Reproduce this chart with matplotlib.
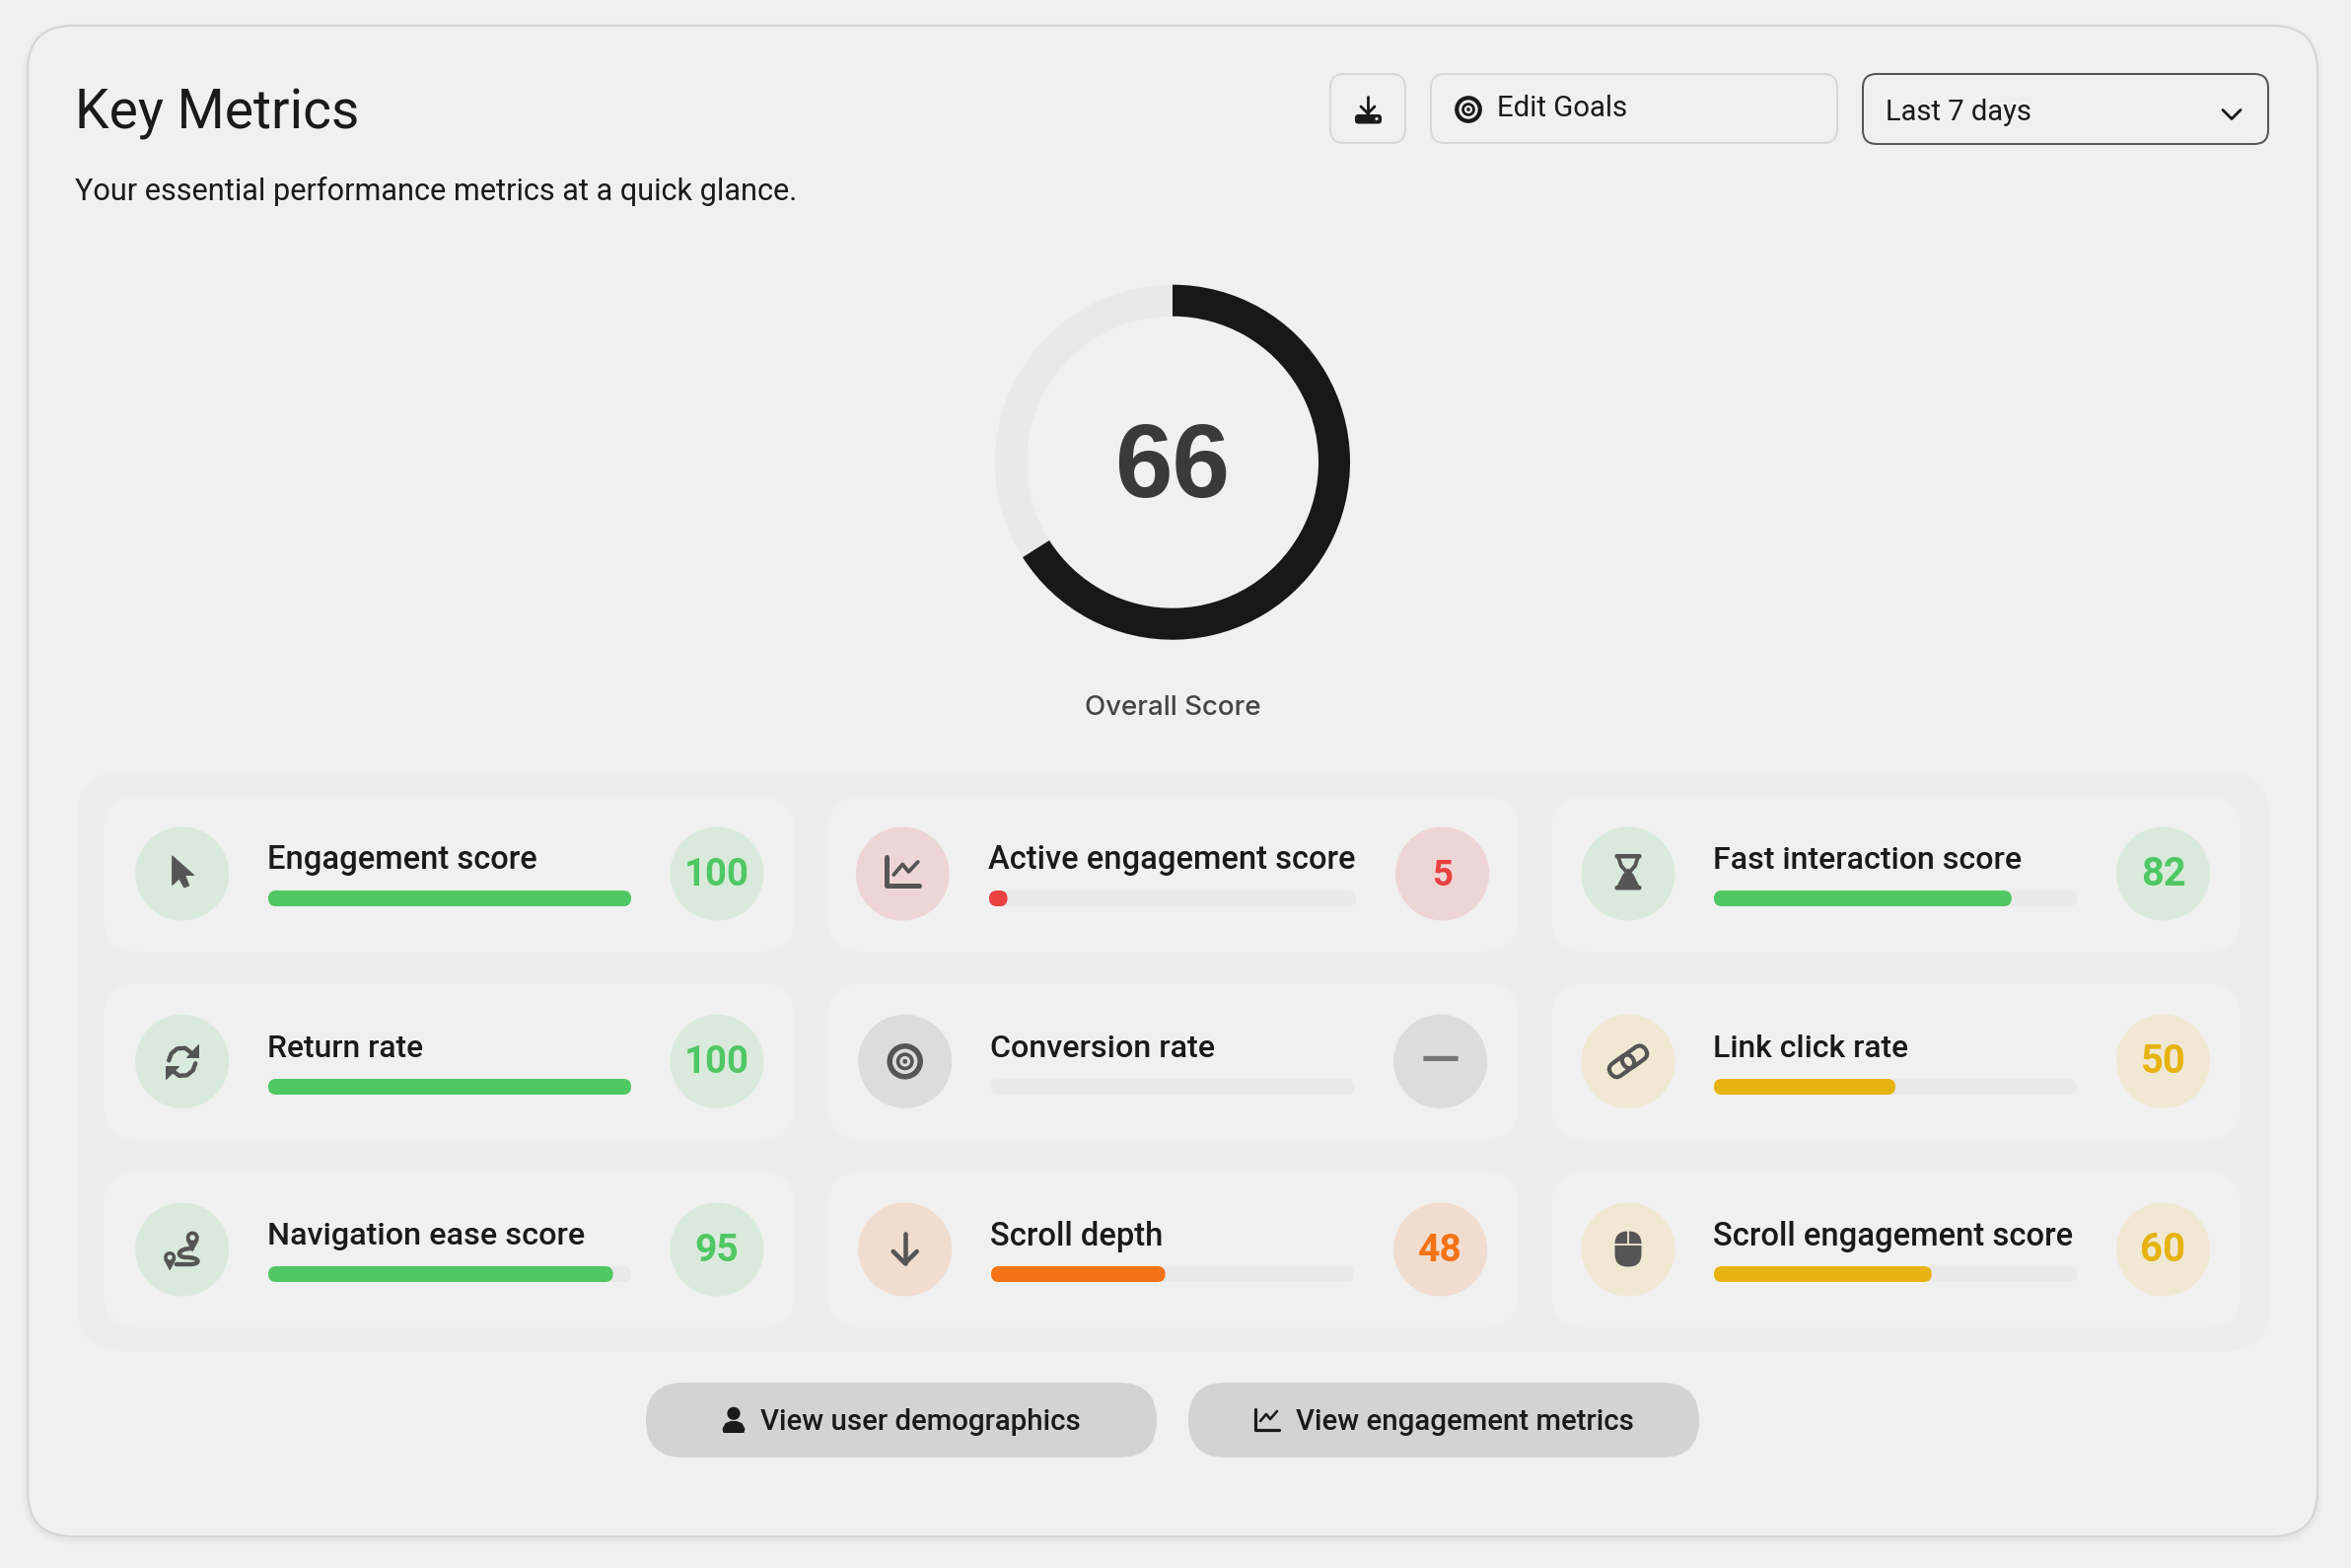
import matplotlib
matplotlib.use("Agg")
import matplotlib.pyplot as plt
from matplotlib.patches import FancyBboxPatch, Circle, Wedge, Polygon, PathPatch
from matplotlib.path import Path
from matplotlib.transforms import Affine2D

# ---------- data ----------
title = "Key Metrics"
subtitle = "Your essential performance metrics at a quick glance."
overall_label = "Overall Score"
overall_score = 66
metric_names = ["Engagement score", "Active engagement score", "Fast interaction score",
                "Return rate", "Conversion rate", "Link click rate",
                "Navigation ease score", "Scroll depth", "Scroll engagement score"]
metric_values = [100, 5, 82, 100, None, 50, 95, 48, 60]
button_labels = ["View user demographics", "View engagement metrics"]
edit_label = "Edit Goals"
range_label = "Last 7 days"

# ---------- layout (pixel canvas) ----------
W, H = 2384, 1590
PX = 0.72
LABEL_FONT = "Roboto"
VALUE_FONT = "Roboto"
INK = "#1a1a1a"
ICON = "#555555"

fig = plt.figure(figsize=(W / 100, H / 100), dpi=100, facecolor="#f0f0f0")
ax = fig.add_axes([0, 0, 1, 1])
ax.set_xlim(0, W)
ax.set_ylim(H, 0)
ax.axis("off")
renderer = fig.canvas.get_renderer()


def box(x0, y0, x1, y1, r, fc="none", ec="none", lw=0, z=1, alpha=None, tr=None):
    p = FancyBboxPatch((x0, y0), x1 - x0, y1 - y0, boxstyle=f"round,pad=0,rounding_size={r}",
                       fc=fc, ec=ec, lw=lw * PX, zorder=z, alpha=alpha)
    if tr is not None:
        p.set_transform(tr + ax.transData)
    ax.add_patch(p)
    return p


def text(x, y, s, width=None, size=20, color=INK, family=LABEL_FONT, weight=500, ha="left", va="baseline", z=6):
    t = ax.text(x, y, s, fontsize=size, color=color, family=family, fontweight=weight, ha=ha, va=va, zorder=z)
    if width:
        bb = t.get_window_extent(renderer)
        t.set_fontsize(size * width / bb.width)
    return t


def line(pts, lw, color=ICON, z=5, cap="round"):
    xs, ys = zip(*pts)
    ax.plot(xs, ys, color=color, lw=lw * PX, solid_capstyle=cap, solid_joinstyle="round", zorder=z)


def disc(x, y, r, fc=ICON, z=5):
    ax.add_patch(Circle((x, y), r, fc=fc, ec="none", zorder=z))


def ring(x, y, r, lw, color=ICON, z=5):
    ax.add_patch(Circle((x, y), r, fc="none", ec=color, lw=lw * PX, zorder=z))


def poly(pts, fc=ICON, z=5):
    ax.add_patch(Polygon(pts, closed=True, fc=fc, ec=fc, lw=1 * PX, joinstyle="round", zorder=z))


# ---------- icons ----------
def icon_cursor(c, bg):
    x, y = c
    poly([(x - 10, y - 18), (x + 12, y + 1.5), (x + 3, y + 1.5), (x + 7, y + 12), (x + 2, y + 14),
          (x - 3, y + 5), (x - 10, y + 11.5)])


def icon_chart(c, bg):
    x, y = c
    line([(x - 16, y - 17), (x - 16, y + 12), (x + 17, y + 12)], 5)
    line([(x - 9, y + 1), (x, y - 9.5), (x + 6, y - 2), (x + 15.5, y - 12)], 3.8)


def icon_hourglass(c, bg):
    x, y = c
    box(x - 13.5, y - 20, x + 13.5, y - 15.5, 2, fc=ICON, z=5)
    box(x - 13.5, y + 12, x + 13.5, y + 16.5, 2, fc=ICON, z=5)
    line([(x - 10, y - 17), (x - 7, y - 8), (x, y), (x + 7, y - 8), (x + 10, y - 17)], 3.8)
    poly([(x, y - 5), (x + 5, y + 1), (x + 11, y + 13), (x - 11, y + 13), (x - 5, y + 1)])


def icon_refresh(c, bg):
    x, y = c
    line([(x - 13.5, y - 1), (x - 11, y - 8), (x - 5, y - 13), (x + 3, y - 13.5), (x + 9, y - 9)], 4.4)
    poly([(x + 16.5, y - 17), (x + 16.5, y - 4), (x + 4, y - 4)])
    line([(x + 13.5, y + 2), (x + 11, y + 9), (x + 5, y + 14), (x - 3, y + 14.5), (x - 9, y + 10)], 4.4)
    poly([(x - 17, y + 18), (x - 17, y + 5), (x - 4, y + 5)])


def icon_target(c, bg, k=1.0, color=ICON):
    x, y = c
    ring(x, y, 15.5 * k, 5.5 * k, color)
    ring(x, y, 7.2 * k, 3.6 * k, color)
    disc(x, y, 2.4 * k, color)


def icon_link(c, bg):
    x, y = c
    for cx, cy in [(x - 6.5, y + 4.5), (x + 6.5, y - 4.5)]:
        tr = Affine2D().rotate_deg_around(cx, cy, -36)
        box(cx - 13.5, cy - 7.5, cx + 13.5, cy + 7.5, 7.5, ec=ICON, lw=4.2, z=5, tr=tr)


def pin(x, y, r, bg):
    disc(x, y, r)
    poly([(x - r * 0.9, y + r * 0.4), (x + r * 0.9, y + r * 0.4), (x, y + r * 2.1)])
    disc(x, y, r * 0.42, bg, z=6)


def icon_route(c, bg):
    x, y = c
    pin(x + 10.5, y - 12, 6.5, bg)
    pin(x - 12.5, y + 8, 6.0, bg)
    verts = [(x + 10, y - 1), (x - 6, y - 1), (x - 6, y + 8), (x + 4, y + 8),
             (x + 19, y + 8), (x + 19, y + 15), (x + 8, y + 15), (x - 6, y + 15)]
    codes = [Path.MOVETO, Path.CURVE4, Path.CURVE4, Path.CURVE4, Path.CURVE4, Path.CURVE4, Path.CURVE4, Path.LINETO]
    ax.add_patch(PathPatch(Path(verts, codes), fc="none", ec=ICON, lw=4.4 * PX, capstyle="round", zorder=5))


def icon_down(c, bg):
    x, y = c
    line([(x, y - 16), (x, y + 14)], 4.6)
    line([(x - 12, y + 2), (x, y + 14), (x + 12, y + 2)], 4.6)


def icon_mouse(c, bg):
    x, y = c
    box(x - 13.5, y - 18.5, x + 13.5, y + 17.5, 13, fc=ICON, z=5)
    line([(x - 14, y - 5), (x + 14, y - 5)], 1.8, bg, z=6, cap="butt")
    line([(x, y - 19), (x, y - 5)], 1.8, bg, z=6, cap="butt")


icons = [icon_cursor, icon_chart, icon_hourglass, icon_refresh, icon_target, icon_link,
         icon_route, icon_down, icon_mouse]


def status_colors(v):
    if v is None:
        return "#dcdcdc", "#777777"
    if v >= 80:
        return "#d9eadc", "#4fc763"
    if v >= 50:
        return "#f0e8d2", "#e6b310"
    if v >= 25:
        return "#f1ddd0", "#f47316"
    return "#eed5d5", "#ea4040"


# ---------- panel ----------
for grow, a in [(6, .008), (4, .012), (2, .02)]:
    box(28 - grow, 26 + 3 - grow, 2350 + grow, 1558 + 3 + grow, 46 + grow, fc="#000000", z=0.2, alpha=a)
box(28, 26, 2350, 1558, 46, fc="#f0f0f0", ec="#d6d6d6", lw=2.2, z=0.5)

text(76, 130, title, width=288, size=40, weight="normal")
text(76.5, 203, subtitle, width=731, size=21, weight="normal")

# header controls
box(1349, 75, 1425, 145, 14, ec="#d8d8d8", lw=2, z=2)
line([(1387, 98), (1387, 115)], 2.8, INK)
line([(1380, 108), (1387, 115), (1394, 108)], 2.8, INK)
box(1374, 116, 1401, 125.5, 3.5, fc=INK, z=5)
disc(1396, 120.5, 1.6, "#f0f0f0", z=6)

box(1451, 75, 1863, 145, 14, ec="#d8d8d8", lw=2, z=2)
icon_target((1489, 111), None, k=0.76, color=INK)
text(1518.5, 117.5, edit_label, width=132, size=21, weight="normal")

box(1889, 75, 2300, 146, 14, ec="#555555", lw=2, z=2)
text(1912.5, 121.5, range_label, width=147.5, size=21, weight="normal")
line([(2254, 111.5), (2263, 120.5), (2272, 111.5)], 2.8, INK)

# ---------- overall ring ----------
ring_c = (1189, 468.7)
ax.add_patch(Wedge(ring_c, 180, 0, 360, width=32, fc="#e9e9e9", ec="none", zorder=2))
ax.add_patch(Wedge(ring_c, 180, -90, -90 + 360 * overall_score / 100, width=32, fc="#181818", ec="none", zorder=3))
text(ring_c[0], 504, str(overall_score), width=117, size=70, color="#3a3a3a", family="Liberation Sans", weight="bold", ha="center")
text(ring_c[0], 725, overall_label, width=179, size=21, color="#444444", family="Inter", weight=500, ha="center")

# ---------- metric grid ----------
box(78, 783, 2302, 1370, 46, fc="#ededed", z=1)
card_x = [(105, 806), (839, 1540), (1573, 2272.5)]
card_y = [(807.5, 965), (997, 1156), (1188, 1346)]
row_cy = [886, 1076.3, 1267]
label_base = [881, 1072.5, 1262.5]
bar_top = [903, 1094, 1284]
col_left_c = [184.7, 917.7, 1651]
col_right_c = [727, 1460.6, 2193.5]
col_bar = [(272, 640), (1005, 1373), (1738, 2106)]
label_w = [273.5, 373, 314, 158.5, 228.5, 198.5, 322, 176, 366]
value_w = {100: 66, 5: 21, 82: 45.6, 50: 46, 95: 45, 48: 45, 60: 46}

for i, (name, val, draw_icon) in enumerate(zip(metric_names, metric_values, icons)):
    row, col = divmod(i, 3)
    bg, fg = status_colors(val)
    box(card_x[col][0], card_y[row][0], card_x[col][1], card_y[row][1], 36, fc="#f0f0f0", z=1.5)
    lc, rc = col_left_c[col], col_right_c[col]
    bx0, bx1 = col_bar[col]
    if name == "Active engagement score":  # the long label stretches this cell's middle column
        lc, rc, bx0, bx1 = lc - 2.4, rc + 2, bx0 - 2, bx1 + 2
    cy = row_cy[row]
    disc(lc, cy, 47.5, bg, z=2)
    disc(rc, cy, 47.5, bg, z=2)
    draw_icon((lc, cy), bg)
    text(bx0 - 1, label_base[row], name, width=label_w[i], size=20)
    top = bar_top[row]
    box(bx0, top, bx1, top + 16, 8, fc="#e9e9e9", z=2)
    if val is not None:
        box(bx0, top, bx0 + (bx1 - bx0) * val / 100, top + 16, 8, fc=fg, z=3)
        text(rc, cy + 12, str(val), width=value_w[val], size=29, color=fg, family=VALUE_FONT, weight="bold", ha="center")
    else:
        text(rc - 0.5, cy + 1, "\u2014", width=41, size=29, color=fg, family=VALUE_FONT, weight=500, ha="center", va="center")

# ---------- bottom buttons ----------
box(655, 1402, 1173, 1478, 38, fc="#d3d3d3", z=2)
box(1205, 1402, 1723, 1478, 38, fc="#d3d3d3", z=2)
disc(744, 1433.3, 6.6, INK)
poly([(734, 1452.5), (733, 1449), (736, 1443.5), (741, 1441.5), (747, 1441.5), (752, 1443.5), (755, 1449), (754, 1452.5)], fc=INK)
text(771, 1450, button_labels[0], width=325, size=21)
line([(1272.5, 1429), (1272.5, 1449.5), (1297, 1449.5)], 3.2, INK)
line([(1278, 1441), (1284, 1434), (1288, 1439), (1295, 1431)], 2.6, INK)
text(1314, 1450, button_labels[1], width=342.5, size=21)

fig.savefig("out.png", dpi=100, facecolor=fig.get_facecolor())
